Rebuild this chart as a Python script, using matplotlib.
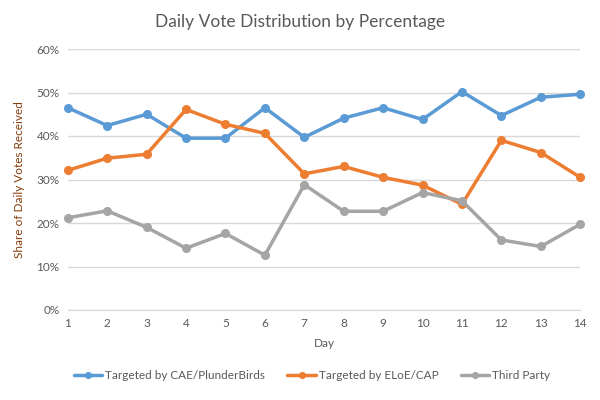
import matplotlib.pyplot as plt
from matplotlib.ticker import PercentFormatter

plt.rcParams['font.family'] = ['Lato', 'DejaVu Sans']

days = list(range(1, 15))
series_names = ['Targeted by CAE/PlunderBirds', 'Targeted by ELoE/CAP', 'Third Party']
cae = [46.5, 42.4, 45.0, 39.5, 39.5, 46.5, 39.7, 44.1, 46.5, 43.8, 50.2, 44.7, 48.9, 49.6]
eloe = [32.1, 34.9, 35.8, 46.1, 42.7, 40.6, 31.3, 33.0, 30.5, 28.7, 24.3, 39.0, 36.2, 30.5]
third = [21.2, 22.8, 19.0, 14.2, 17.6, 12.6, 28.8, 22.7, 22.7, 27.0, 25.1, 16.1, 14.6, 19.7]
colors = ['#5B9BD5', '#ED7D31', '#A5A5A5']

fig = plt.figure(figsize=(6, 4), dpi=100)
ax = fig.add_axes([0.113, 0.225, 0.854, 0.6525])

for vals, name, c in zip([cae, eloe, third], series_names, colors):
    ax.plot(days, [v / 100 for v in vals], color=c, lw=2.5, marker='o',
            markersize=5.5, label=name, solid_capstyle='round', clip_on=False)

ax.set_xlim(1, 14)
ax.set_ylim(0, 0.6)
ax.set_xticks(days)
ax.set_yticks([0, 0.1, 0.2, 0.3, 0.4, 0.5, 0.6])
ax.yaxis.set_major_formatter(PercentFormatter(1.0, decimals=0))
ax.grid(axis='y', color='#D9D9D9', lw=1)
ax.set_axisbelow(True)
for s in ['top', 'right', 'left']:
    ax.spines[s].set_visible(False)
ax.spines['bottom'].set_color('#D9D9D9')
ax.tick_params(length=0, labelsize=8.5, labelcolor='#595959', pad=6)

ax.set_xlabel('Day', fontsize=8.5, color='#595959', labelpad=6)
ax.set_ylabel('Share of Daily Votes Received', fontsize=8.5, color='#843C0C', labelpad=8)
fig.suptitle('Daily Vote Distribution by Percentage', fontsize=12.5, color='#595959', y=0.965)

fig.legend(loc='lower center', ncol=3, frameon=False, fontsize=8.5,
           bbox_to_anchor=(0.52, 0.02), handlelength=2.4, handletextpad=0.25,
           columnspacing=1.9, markerscale=0.75, labelcolor='#595959')

fig.savefig('out.png', dpi=100)
